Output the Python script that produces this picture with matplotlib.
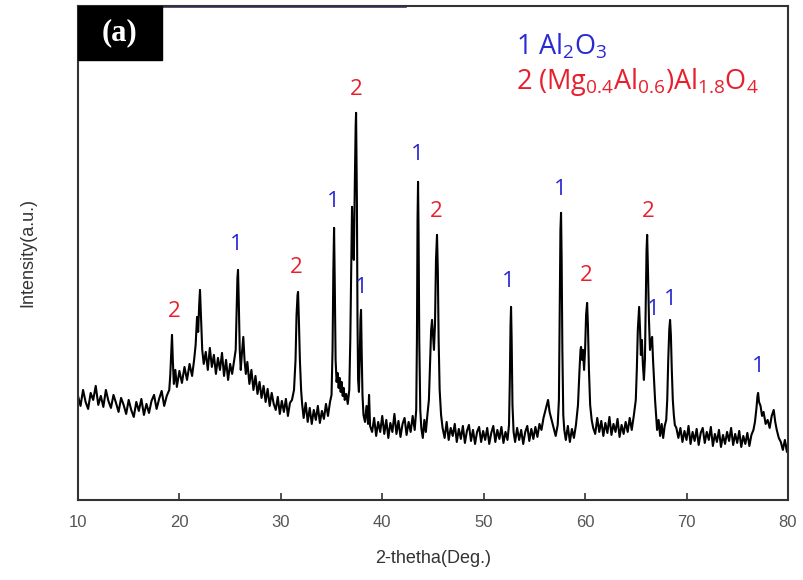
import matplotlib.pyplot as plt
from matplotlib.patches import Rectangle

# XRD pattern, (2-theta, intensity in a.u.), split by region
region_10_26 = [
    (10.00, 104), (10.25, 94), (10.50, 110), (10.75, 98), (11.00, 91), (11.25, 107),
    (11.50, 100), (11.75, 114), (12.00, 95), (12.25, 104), (12.50, 93), (12.75, 110),
    (13.00, 99), (13.25, 92), (13.50, 105), (13.75, 97), (14.00, 88), (14.25, 102),
    (14.50, 95), (14.75, 86), (15.00, 100), (15.25, 90), (15.50, 83), (15.75, 98),
    (16.00, 89), (16.25, 101), (16.50, 85), (16.75, 96), (17.00, 87), (17.25, 99),
    (17.50, 105), (17.75, 91), (18.00, 101), (18.25, 109), (18.50, 94), (18.75, 104),
    (19.00, 110), (19.10, 125), (19.20, 150), (19.27, 165), (19.35, 140), (19.45, 116),
    (19.60, 130), (19.75, 113), (20.00, 129), (20.25, 117), (20.50, 133), (20.75, 120),
    (21.00, 136), (21.25, 124), (21.45, 140), (21.60, 155), (21.74, 183), (21.85, 168),
    (21.95, 195), (22.03, 210), (22.12, 185), (22.25, 150), (22.40, 136), (22.60, 148),
    (22.80, 130), (23.00, 152), (23.20, 133), (23.40, 145), (23.60, 126), (23.80, 142),
    (24.00, 130), (24.20, 147), (24.40, 124), (24.60, 140), (24.80, 120), (25.00, 136),
    (25.20, 126), (25.40, 140), (25.55, 150), (25.65, 190), (25.72, 222), (25.78, 230),
    (25.85, 200), (25.95, 150), (26.05, 130), (26.15, 145), (26.30, 163), (26.42, 140),
    (26.55, 126), (26.70, 138),
]
region_26_38 = [
    (26.90, 116), (27.10, 130), (27.30, 110), (27.50, 124), (27.70, 106), (27.90, 118),
    (28.10, 102), (28.30, 114), (28.50, 98), (28.70, 111), (28.90, 94), (29.10, 107),
    (29.30, 96), (29.50, 90), (29.70, 103), (29.90, 86), (30.10, 99), (30.30, 88),
    (30.50, 101), (30.70, 84), (30.90, 97), (31.10, 100), (31.30, 110), (31.45, 140),
    (31.55, 185), (31.65, 205), (31.70, 208), (31.78, 180), (31.88, 140), (32.00, 110),
    (32.10, 96), (32.25, 82), (32.45, 97), (32.65, 78), (32.85, 92), (33.05, 76),
    (33.25, 90), (33.45, 80), (33.65, 94), (33.85, 77), (34.05, 89), (34.25, 81),
    (34.45, 96), (34.65, 84), (34.85, 98), (35.00, 105), (35.10, 150), (35.18, 230),
    (35.25, 272), (35.32, 215), (35.40, 140), (35.50, 118), (35.60, 127), (35.70, 112),
    (35.80, 122), (35.90, 108), (36.00, 118), (36.10, 104), (36.20, 112), (36.30, 100),
    (36.45, 106), (36.60, 96), (36.75, 110), (36.85, 160), (36.95, 240), (37.02, 293),
    (37.10, 250), (37.20, 240), (37.30, 320), (37.38, 375), (37.42, 387), (37.50, 300),
    (37.56, 180), (37.62, 120), (37.70, 108), (37.78, 140), (37.85, 180), (37.91, 190),
    (37.97, 150), (38.05, 105), (38.15, 85),
]
region_38_58 = [
    (38.30, 78), (38.45, 94), (38.60, 76), (38.70, 105), (38.80, 74), (39.00, 68),
    (39.20, 82), (39.40, 64), (39.60, 78), (39.80, 68), (40.00, 84), (40.20, 66),
    (40.40, 80), (40.60, 62), (40.80, 77), (41.00, 68), (41.20, 86), (41.40, 66),
    (41.60, 79), (41.80, 63), (42.00, 76), (42.20, 82), (42.40, 65), (42.60, 78),
    (42.80, 68), (43.00, 84), (43.20, 70), (43.35, 90), (43.42, 160), (43.48, 280),
    (43.53, 318), (43.58, 270), (43.65, 160), (43.75, 90), (43.85, 72), (44.00, 62),
    (44.15, 80), (44.30, 68), (44.45, 85), (44.60, 100), (44.72, 140), (44.82, 170),
    (44.91, 180), (45.00, 165), (45.10, 150), (45.20, 175), (45.30, 240), (45.40, 265),
    (45.48, 230), (45.56, 160), (45.66, 110), (45.80, 85), (45.95, 72), (46.15, 62),
    (46.35, 78), (46.55, 60), (46.75, 72), (46.95, 64), (47.15, 76), (47.35, 58),
    (47.55, 71), (47.75, 61), (47.95, 74), (48.15, 57), (48.35, 69), (48.55, 75),
    (48.75, 59), (48.95, 70), (49.15, 56), (49.35, 68), (49.55, 73), (49.75, 58),
    (49.95, 69), (50.15, 60), (50.35, 72), (50.55, 56), (50.75, 67), (50.95, 74),
    (51.15, 58), (51.35, 70), (51.55, 61), (51.75, 73), (51.95, 57), (52.15, 68),
    (52.35, 60), (52.50, 75), (52.58, 120), (52.65, 175), (52.70, 193), (52.76, 160),
    (52.84, 95), (52.95, 68), (53.10, 58), (53.30, 72), (53.50, 60), (53.70, 70),
    (53.90, 56), (54.10, 68), (54.30, 74), (54.50, 59), (54.70, 71), (54.90, 61),
    (55.10, 73), (55.30, 63), (55.50, 76), (55.70, 70), (55.90, 82), (56.10, 90),
    (56.25, 96), (56.35, 100), (56.50, 88), (56.70, 80), (56.90, 72), (57.10, 64),
    (57.30, 75), (57.42, 100), (57.50, 190), (57.57, 270), (57.63, 287), (57.69, 240),
    (57.76, 150), (57.85, 85), (57.95, 70),
]
region_58_80 = [
    (58.10, 60), (58.30, 74), (58.50, 58), (58.70, 71), (58.90, 62), (59.10, 75),
    (59.30, 95), (59.45, 130), (59.55, 150), (59.60, 153), (59.70, 140), (59.80, 150),
    (59.90, 130), (60.00, 150), (60.10, 185), (60.20, 197), (60.28, 175), (60.38, 130),
    (60.50, 95), (60.65, 80), (60.80, 72), (61.00, 66), (61.20, 82), (61.40, 68),
    (61.60, 79), (61.80, 64), (62.00, 77), (62.20, 67), (62.40, 83), (62.60, 65),
    (62.80, 76), (63.00, 68), (63.20, 81), (63.40, 63), (63.60, 75), (63.80, 66),
    (64.00, 78), (64.20, 68), (64.40, 82), (64.60, 70), (64.80, 84), (65.00, 100),
    (65.10, 130), (65.20, 170), (65.33, 193), (65.42, 170), (65.50, 145), (65.60, 160),
    (65.70, 135), (65.80, 120), (65.90, 140), (66.00, 210), (66.06, 250), (66.12, 265),
    (66.20, 230), (66.30, 180), (66.40, 150), (66.50, 158), (66.61, 163), (66.70, 140),
    (66.80, 120), (66.90, 100), (67.00, 85), (67.10, 70), (67.25, 80), (67.40, 64),
    (67.55, 76), (67.70, 62), (67.85, 74), (68.00, 80), (68.10, 100), (68.20, 140),
    (68.30, 170), (68.38, 180), (68.46, 165), (68.55, 130), (68.65, 100), (68.75, 85),
    (68.85, 75), (69.00, 72), (69.20, 62), (69.40, 72), (69.60, 58), (69.80, 69),
    (70.00, 60), (70.20, 74), (70.40, 56), (70.60, 68), (70.80, 59), (71.00, 71),
    (71.20, 55), (71.40, 67), (71.60, 72), (71.80, 57), (72.00, 68), (72.20, 60),
    (72.40, 73), (72.60, 54), (72.80, 66), (73.00, 58), (73.20, 70), (73.40, 53),
    (73.60, 65), (73.80, 56), (74.00, 68), (74.20, 59), (74.40, 72), (74.60, 55),
    (74.80, 66), (75.00, 57), (75.20, 69), (75.40, 53), (75.60, 64), (75.80, 56),
    (76.00, 67), (76.20, 54), (76.40, 65), (76.60, 70), (76.75, 78), (76.90, 92),
    (77.00, 104), (77.06, 107), (77.15, 98), (77.30, 94), (77.45, 84), (77.60, 88),
    (77.80, 76), (78.00, 80), (78.20, 72), (78.40, 84), (78.60, 90), (78.75, 78),
    (78.90, 70), (79.10, 62), (79.30, 58), (79.50, 50), (79.70, 60), (79.90, 48),
    (80.00, 56),
]

# phase labels above the peaks: (2-theta, height, phase number)
peak_labels = [
    (19.45, 178, 2), (25.58, 245, 1), (31.50, 222, 2), (35.15, 288, 1),
    (37.42, 400, 2), (37.91, 202, 1), (43.43, 335, 1), (45.30, 278, 2),
    (52.40, 208, 1), (57.53, 300, 1), (60.10, 214, 2), (66.20, 278, 2),
    (66.70, 180, 1), (68.38, 190, 1), (77.06, 123, 1),
]
phase_colors = {1: '#2a2ad2', 2: '#e8202e'}

points = region_10_26 + region_26_38 + region_38_58 + region_58_80
two_theta = [p[0] for p in points]
intensity = [p[1] for p in points]

fig = plt.figure(figsize=(8.04, 5.8), dpi=100)
ax = fig.add_axes([0.097, 0.138, 0.883, 0.852])

ax.plot(two_theta, intensity, color='black', linewidth=1.5)

for x, y, ph in peak_labels:
    ax.text(x, y, str(ph), color=phase_colors[ph], fontsize=16,
            family='Open Sans', ha='center', va='bottom')

ax.set_xlim(10, 80)
ax.set_ylim(0, 494)
ax.set_xticks(range(10, 81, 10))
ax.set_yticks([])
ax.tick_params(axis='x', direction='in', length=5, width=1.2, colors='#333333',
               labelcolor='#555555', labelsize=12, pad=11)
for lbl in ax.get_xticklabels():
    lbl.set_family('Liberation Sans')
for side in ['left', 'right', 'bottom', 'top']:
    ax.spines[side].set_color('#333333')
    ax.spines[side].set_linewidth(1.5)

# navy segment of the top frame next to the label box
ax.plot([0.118, 0.46], [1, 1], transform=ax.transAxes, color='#1e1e6e',
        linewidth=1.8, clip_on=False)

# "(a)" panel tag
ax.add_patch(Rectangle((0, 0.89), 0.118, 0.11, transform=ax.transAxes,
                       facecolor='black', edgecolor='black', clip_on=False, zorder=5))
ax.text(0.059, 0.945, '(a)', transform=ax.transAxes, color='white', fontsize=22,
        fontweight='bold', family='Liberation Serif', ha='center', va='center', zorder=6)

# phase legend
ax.text(0.617, 0.918, r'1 Al$_\mathregular{2}$O$_\mathregular{3}$', transform=ax.transAxes,
        color=phase_colors[1], fontsize=19.5, family='Open Sans', ha='left', va='center')
ax.text(0.617, 0.845,
        r'2 (Mg$_\mathregular{0.4}$Al$_\mathregular{0.6}$)Al$_\mathregular{1.8}$O$_\mathregular{4}$',
        transform=ax.transAxes, color=phase_colors[2], fontsize=19.5, family='Open Sans',
        ha='left', va='center')

ax.set_xlabel('2-thetha(Deg.)', fontsize=13, color='#333333', family='Liberation Sans',
              labelpad=14)
ax.set_ylabel('Intensity(a.u.)', fontsize=13, color='#333333', family='Liberation Sans',
              labelpad=30)

fig.savefig('out.png', dpi=100)
